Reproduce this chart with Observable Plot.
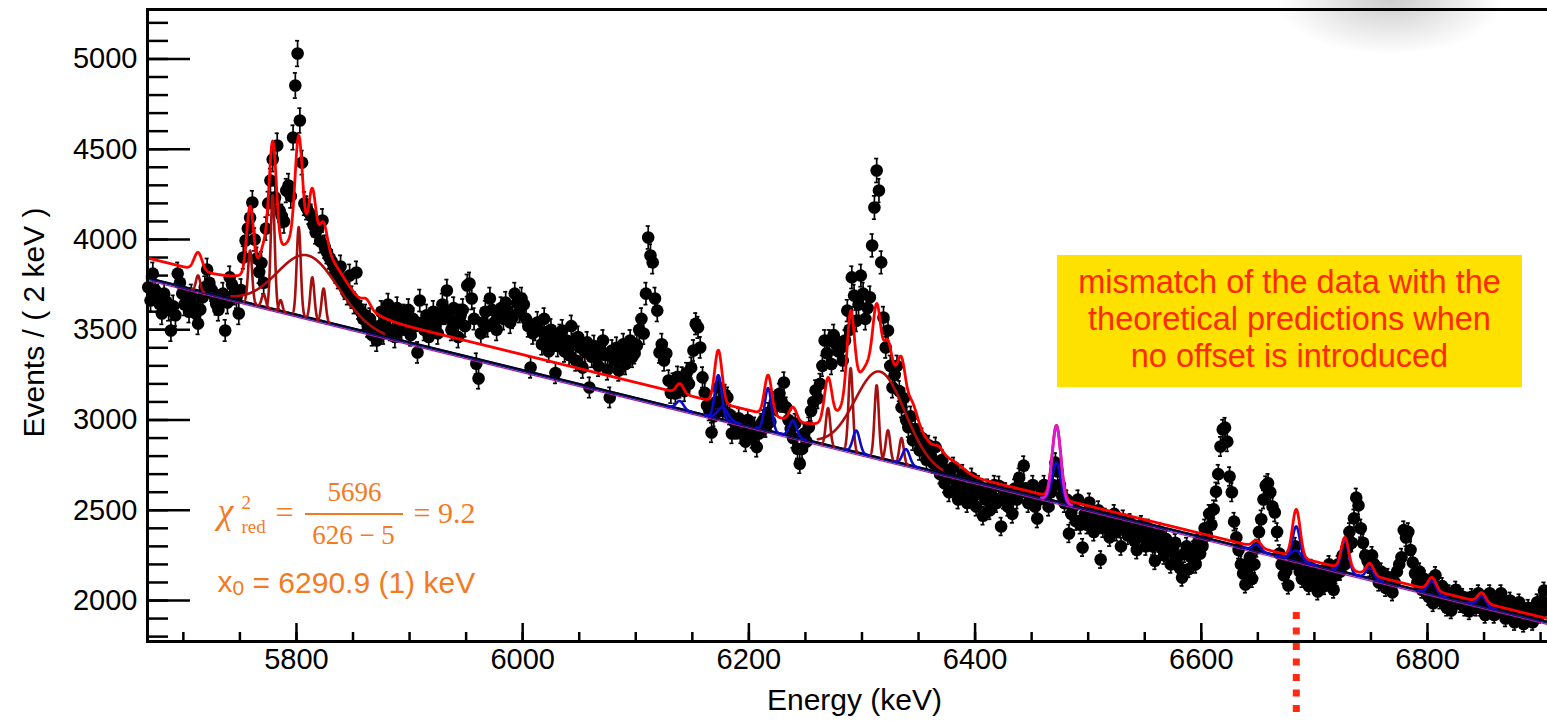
<!DOCTYPE html>
<html>
<head>
<meta charset="utf-8">
<script src="https://cdn.jsdelivr.net/npm/d3@7"></script>
<script src="https://cdn.jsdelivr.net/npm/@observablehq/plot@0.6"></script>
<style>
  html, body { margin: 0; padding: 0; background: #fff; }
  #wrap { position: relative; width: 1547px; height: 721px; overflow: hidden;
          font-family: "Liberation Sans", Helvetica, Arial, sans-serif; }
  #wrap svg { position: absolute; left: 0; top: 0; display: block; }
  .shade { position: absolute; left: 1275px; top: -55px; width: 230px; height: 110px;
           background: radial-gradient(ellipse at 50% 50%, rgba(0,0,0,0.20) 0%, rgba(0,0,0,0.08) 42%, rgba(0,0,0,0) 70%); }
  .note { position: absolute; left: 1057px; top: 255px; width: 465px; height: 132px;
          background: #ffe100; color: #ff2a00; font-size: 32.5px; line-height: 37px;
          text-align: center; box-sizing: border-box; padding-top: 9px; z-index: 2; white-space: nowrap; }
</style>
</head>
<body>
<div id="wrap">
  <div class="shade"></div>
  <div class="note">mismatch of the data with the<br>theoretical predictions when<br>no offset is introduced</div>
</div>
<script>
// ---- measured spectrum: counts per 2 keV bin, first bin centred at 5669 keV ----
const binStart = 5669;
const binWidth = 2;
const counts = [
  3735, 3662, 3811, 3720, 3690, 3643, 3590, 3700, 3655, 3610,
  3496, 3630, 3580, 3811, 3760, 3700, 3640, 3662, 3600, 3690,
  3640, 3590, 3534, 3612, 3680, 3735, 3833, 3760, 3720, 3690,
  3643, 3610, 3660, 3700, 3496, 3650, 3790, 3750, 3700, 3680,
  3590, 3720, 3900, 3994, 4061, 4120, 4205, 4000, 3894, 3820,
  3870, 3760, 4060, 4200, 4327, 4443, 4233, 4521, 4161, 4130,
  4100, 4271, 4299, 4240, 4565, 4853, 5030, 4659, 4426, 4199,
  4175, 4150, 4130, 4080, 4040, 4060, 3990, 4105, 3960, 3930,
  3900, 3880, 3850, 3820, 3790, 3850, 3760, 3730, 3700, 3800,
  3680, 3650, 3817, 3620, 3600, 3560, 3580, 3520, 3560, 3470,
  3500, 3440, 3520, 3600, 3480, 3560, 3640, 3500, 3580, 3460,
  3620, 3540, 3500, 3580, 3530, 3610, 3470, 3560, 3520, 3374,
  3662, 3540, 3500, 3580, 3460, 3540, 3600, 3520, 3480, 3560,
  3640, 3590, 3717, 3560, 3500, 3620, 3540, 3460, 3580, 3610,
  3520, 3745, 3756, 3673, 3560, 3312, 3230, 3480, 3540, 3600,
  3520, 3673, 3610, 3540, 3500, 3580, 3620, 3560, 3650, 3600,
  3540, 3568, 3700, 3650, 3600, 3673, 3640, 3560, 3520, 3291,
  3480, 3500, 3540, 3496, 3420, 3560, 3457, 3380, 3500, 3440,
  3260, 3410, 3470, 3496, 3380, 3440, 3360, 3520, 3420, 3330,
  3460, 3402, 3290, 3380, 3430, 3180, 3350, 3410, 3347, 3300,
  3390, 3440, 3360, 3280, 3125, 3385, 3330, 3400, 3274, 3350,
  3420, 3310, 3380, 3440, 3350, 3370, 3413, 3500, 3560, 3479,
  3700, 4011, 3911, 3873, 3673, 3606, 3374, 3420, 3330, 3368,
  3219, 3150, 3202, 3147, 3240, 3180, 3236, 3160, 3260, 3200,
  3290, 3385, 3533, 3513, 3402, 3236, 3150, 3080, 3053, 2931,
  3020, 3100, 3180, 3100, 3050, 3140, 3125, 3030, 2925, 2990,
  2950, 3010, 2925, 2960, 2880, 3000, 2940, 2900, 2960, 2850,
  2925, 2980, 3000, 2960, 3040, 2990, 3060, 3100, 3080, 3145,
  3100, 3208, 3070, 3000, 2950, 2900, 2980, 2840, 2758, 2840,
  2925, 2880, 2960, 3050, 3100, 3164, 3120, 3200, 3300, 3440,
  3370, 3440, 3310, 3470, 3420, 3380, 3400, 3330, 3440, 3606,
  3500, 3790, 3689, 3550, 3640, 3800, 3700, 3560, 3620, 3680,
  3967, 4177, 4382, 4271, 3873, 3568, 3402, 3496, 3300, 3180,
  3250, 3300, 3160, 3070, 3120, 3000, 2960, 3020, 2887, 2950,
  2887, 2832, 2900, 2832, 2780, 2860, 2800, 2760, 2850, 2740,
  2700, 2780, 2650, 2720, 2600, 2680, 2740, 2620, 2560, 2650,
  2700, 2600, 2540, 2620, 2680, 2580, 2520, 2640, 2590, 2470,
  2560, 2620, 2500, 2580, 2640, 2540, 2636, 2410, 2560, 2600,
  2520, 2580, 2480, 2620, 2560, 2680, 2620, 2747, 2600, 2540,
  2580, 2640, 2520, 2454, 2560, 2600, 2640, 2580, 2520, 2600,
  2640, 2764, 2715, 2640, 2580, 2540, 2560, 2371, 2480, 2520,
  2440, 2560, 2420, 2294, 2480, 2420, 2543, 2460, 2380, 2440,
  2500, 2227, 2400, 2460, 2410, 2350, 2440, 2480, 2380, 2420,
  2300, 2450, 2390, 2360, 2430, 2400, 2330, 2280, 2380, 2420,
  2350, 2300, 2400, 2349, 2300, 2220, 2330, 2380, 2290, 2250,
  2340, 2300, 2200, 2280, 2320, 2240, 2180, 2127, 2260, 2300,
  2175, 2240, 2280, 2200, 2320, 2260, 2300, 2400, 2360, 2480,
  2420, 2505, 2603, 2700, 2853, 2947, 2958, 2880, 2687, 2600,
  2437, 2350, 2280, 2200, 2150, 2089, 2180, 2240, 2120, 2200,
  2290, 2380, 2450, 2560, 2637, 2650, 2600, 2520, 2488, 2380,
  2260, 2200, 2140, 2160, 2083, 2200, 2250, 2300, 2220, 2160,
  2120, 2200, 2140, 2080, 2180, 2120, 2150, 2050, 2100, 2160,
  2080, 2140, 2200, 2120, 2060, 2140, 2200, 2160, 2250, 2200,
  2290, 2380, 2320, 2455, 2570, 2527, 2400, 2320, 2250, 2220,
  2180, 2250, 2200, 2150, 2100, 2160, 2120, 2070, 2130, 2100,
  2045, 2100, 2160, 2200, 2240, 2390, 2349, 2380, 2280, 2210,
  2150, 2100, 2160, 2060, 2120, 2080, 2020, 2100, 1985, 2140,
  2060, 2000, 2080, 2040, 1960, 2040, 1945, 2000, 2060, 2040,
  1980, 2020, 1960, 2000, 1940, 2020, 1990, 1960, 2040, 1960,
  2000, 1920, 1980, 2040, 1960, 1920, 2000, 1950, 2040, 1980,
  1900, 1960, 2000, 1930, 1880, 1960, 1990, 1920, 1870, 1905,
  1960, 1900, 1880, 1940, 1990, 1920, 2000, 2055, 1960
];

// ---- fit model: linear background + steps + broad humps + narrow lines ----
const bgEnergy = [5668, 6906];
const bgCounts = [3785, 1880];
const fitBase = 20;
// [energy, height, width] of the smooth low-energy steps
const fitSteps = [[5840, 25, 8], [6390, 68, 5]];
// [energy, amplitude, sigma] of the two broad structures
const fitHumps = [[5810, 345, 27], [6316, 480, 22]];
// [energy, amplitude, sigma] of the narrow lines in the total fit
const fitPeaks = [
  [5713, 99, 3.5], [5759, 369, 3.0], [5771, 100, 3.5], [5779, 632, 3.2],
  [5802, 554, 3.2], [5814, 269, 3.0], [5824, 138, 3.2], [5862, 40, 3.5],
  [6139, 53, 3.2], [6173, 291, 3.2], [6217, 220, 3.2], [6239, 76, 3.2],
  [6270, 235, 3.2], [6290, 451, 3.2], [6313, 289, 3.2], [6323, 118, 3.0],
  [6335, 169, 3.2], [6345, 60, 4.0], [6368, 30, 3.5],
  [6472, 402, 3.8], [6649, 38, 3.5], [6684, 263, 3.4], [6727, 174, 3.3],
  [6749, 64, 3.3], [6804, 71, 3.5], [6848, 54, 3.5]
];
// individual components drawn on top of the background
const darkRedLines = [
  [5713, 85, 1.8], [5759, 294, 1.8], [5771, 70, 1.8], [5779, 630, 1.8],
  [5786, 60, 1.5], [5802, 489, 1.8], [5814, 230, 1.8], [5824, 183, 1.8],
  [6270, 207, 1.9], [6290, 459, 1.9], [6313, 400, 1.9], [6323, 166, 1.9],
  [6335, 141, 1.9]
];
const blueLines = [
  [6139, 45, 3.2], [6173, 240, 3.0], [6177, 68, 4.5], [6217, 236, 3.0],
  [6239, 91, 3.2], [6295, 121, 3.0], [6339, 86, 3.2], [6472, 215, 3.8],
  [6649, 35, 3.5], [6684, 189, 3.3], [6684, 55, 5.0], [6727, 180, 3.3],
  [6749, 60, 3.3], [6804, 70, 3.5], [6848, 55, 3.5]
];
const magentaLines = [[6472, 420, 3.8]];

// ---- axis ticks and annotation values ----
const xMajorTicks = [5800, 6000, 6200, 6400, 6600, 6800];
const xMinorTicks = d3.range(5700, 6901, 50);
const yMajorTicks = [2000, 2500, 3000, 3500, 4000, 4500, 5000];
const yMinorTicks = d3.range(1800, 5201, 100);
const markerEnergy = [6684];

const ORANGE = "#f47a1f";
const width = 1547, height = 721;
const margin = {top: 9, right: 0, bottom: 80, left: 147};
const innerW = width - margin.left - margin.right;
const innerH = height - margin.top - margin.bottom;

const energy = counts.map((_, i) => binStart + binWidth * i);
const bins = counts.map((n, i) => ({E: energy[i], N: n, err: Math.sqrt(n)}));

const gauss = (E, c, a, s) => a * Math.exp(-0.5 * ((E - c) / s) ** 2);
const background = E => bgCounts[0] + (bgCounts[1] - bgCounts[0]) * (E - bgEnergy[0]) / (bgEnergy[1] - bgEnergy[0]);
const offset = E => fitBase + d3.sum(fitSteps, ([c, h, w]) => h / (1 + Math.exp((E - c) / w)));
const totalFit = E => background(E) + offset(E)
  + d3.sum(fitHumps, ([c, a, s]) => gauss(E, c, a, s))
  + d3.sum(fitPeaks, ([c, a, s]) => gauss(E, c, a, s));

const grid = d3.range(bgEnergy[0], bgEnergy[1] + 0.001, 0.25);
const fitCurve = grid.map(E => ({E, N: totalFit(E)}));
const bgCurve = bgEnergy.map(E => ({E, N: background(E)}));

function componentCurves(list, span, tag) {
  return list.flatMap(([c, a, s], i) =>
    d3.range(c - span * s, c + span * s + 0.001, 0.1).map(E => ({E, N: background(E) + gauss(E, c, a, s), id: tag + i})));
}
const humpCurves = componentCurves(fitHumps, 2.5, "h");
const darkRedCurves = componentCurves(darkRedLines, 3, "d");
const blueCurves = componentCurves(blueLines, 3.5, "b");
const magentaCurves = componentCurves(magentaLines, 3.5, "m");

const capHalf = 1.8;
const serif = "'Liberation Serif', 'Times New Roman', serif";
const at = (px, py) => ({frameAnchor: "top-left", dx: px - margin.left, dy: py - margin.top, lineAnchor: "bottom"});

const chart = Plot.plot({
  width, height,
  marginTop: margin.top, marginRight: margin.right, marginBottom: margin.bottom, marginLeft: margin.left,
  x: {domain: [5668.3, 6906.1]},
  y: {domain: [1773, 5274]},
  style: {fontFamily: "'Liberation Sans', Helvetica, Arial, sans-serif", fontSize: "29px", background: "transparent", overflow: "visible"},
  marks: [
    // inward ticks
    Plot.tickY(yMinorTicks, {insetRight: innerW - 21, strokeWidth: 2.5}),
    Plot.tickY(yMajorTicks, {insetRight: innerW - 43, strokeWidth: 2.5}),
    Plot.tickX(xMinorTicks, {insetTop: innerH - 9, strokeWidth: 2.5}),
    Plot.tickX(xMajorTicks, {insetTop: innerH - 18, strokeWidth: 2.5}),
    // data with statistical errors
    Plot.ruleX(bins, {x: "E", y1: d => d.N - d.err, y2: d => d.N + d.err, stroke: "black", strokeWidth: 1.7}),
    Plot.ruleY(bins, {y: d => d.N + d.err, x1: d => d.E - capHalf, x2: d => d.E + capHalf, stroke: "black", strokeWidth: 1.7}),
    Plot.ruleY(bins, {y: d => d.N - d.err, x1: d => d.E - capHalf, x2: d => d.E + capHalf, stroke: "black", strokeWidth: 1.7}),
    Plot.dot(bins, {x: "E", y: "N", r: 6.3, fill: "black"}),
    // background
    Plot.line(bgCurve, {x: "E", y: "N", stroke: "#b01c9c", strokeWidth: 1.2, dy: 2.2}),
    Plot.line(bgCurve, {x: "E", y: "N", stroke: "#1a1a8c", strokeWidth: 3}),
    Plot.line(bgCurve, {x: "E", y: "N", stroke: "#000", strokeWidth: 1.4, dy: -0.6}),
    // fit components
    Plot.line(humpCurves, {x: "E", y: "N", z: "id", stroke: "#b00d0d", strokeWidth: 2.6}),
    Plot.line(darkRedCurves, {x: "E", y: "N", z: "id", stroke: "#a50f0f", strokeWidth: 2.6}),
    Plot.line(blueCurves, {x: "E", y: "N", z: "id", stroke: "#0c0cc8", strokeWidth: 2.6}),
    // total fit
    Plot.line(fitCurve, {x: "E", y: "N", stroke: "#ff0000", strokeWidth: 2.8}),
    Plot.line(magentaCurves, {x: "E", y: "N", z: "id", stroke: "#d61ad6", strokeWidth: 2.8}),
    // frame
    Plot.frame({anchor: "left", strokeWidth: 3}),
    Plot.frame({anchor: "bottom", strokeWidth: 3}),
    Plot.frame({anchor: "top", strokeWidth: 3}),
    // axes
    Plot.axisY(yMajorTicks, {tickSize: 0, tickPadding: 10, tickFormat: "d", fontSize: 29, label: null}),
    Plot.axisX(xMajorTicks, {tickSize: 0, tickPadding: 7, tickFormat: "d", fontSize: 29, label: null}),
    Plot.text(["Energy (keV)"], {frameAnchor: "bottom", dx: 7, dy: 68, lineAnchor: "bottom", textAnchor: "middle", fontSize: 30}),
    Plot.text(["Events / ( 2 keV )"], {frameAnchor: "left", rotate: -90, dx: -104, dy: -3, lineAnchor: "bottom", textAnchor: "middle", fontSize: 30}),
    // reference energy marker
    Plot.ruleX(markerEnergy, {stroke: "#ff2a10", strokeWidth: 7, strokeDasharray: "7 8.5", insetTop: 603, insetBottom: -78}),
    // fit-quality annotation
    Plot.text(["χ"], {...at(217, 522), textAnchor: "start", fontFamily: serif, fontStyle: "italic", fontSize: 36, fill: ORANGE}),
    Plot.text(["2"], {...at(241, 508), textAnchor: "start", fontFamily: serif, fontSize: 19, fill: ORANGE}),
    Plot.text(["red"], {...at(241, 532), textAnchor: "start", fontFamily: serif, fontSize: 19, fill: ORANGE}),
    Plot.text(["="], {...at(284, 522), textAnchor: "middle", fontFamily: serif, fontSize: 32, fill: ORANGE}),
    Plot.text(["5696"], {...at(354, 500), textAnchor: "middle", fontFamily: serif, fontSize: 27, fill: ORANGE}),
    Plot.text(["626 − 5"], {...at(353, 543), textAnchor: "middle", fontFamily: serif, fontSize: 27, fill: ORANGE}),
    Plot.text(["= 9.2"], {...at(413, 522), textAnchor: "start", fontFamily: serif, fontSize: 30, fill: ORANGE}),
    Plot.text(["x"], {...at(217, 591), textAnchor: "start", fontSize: 30, fill: ORANGE}),
    Plot.text(["0"], {...at(232, 594), textAnchor: "start", fontSize: 21, fill: ORANGE}),
    Plot.text(["= 6290.9 (1) keV"], {...at(252, 592), textAnchor: "start", fontSize: 30, fill: ORANGE})
  ]
});

// fraction bar of the reduced chi-square
const svg = d3.select(chart);
svg.append("line").attr("x1", 305).attr("x2", 403).attr("y1", 514).attr("y2", 514)
  .attr("stroke", ORANGE).attr("stroke-width", 2);

document.getElementById("wrap").appendChild(chart);
</script>
</body>
</html>
